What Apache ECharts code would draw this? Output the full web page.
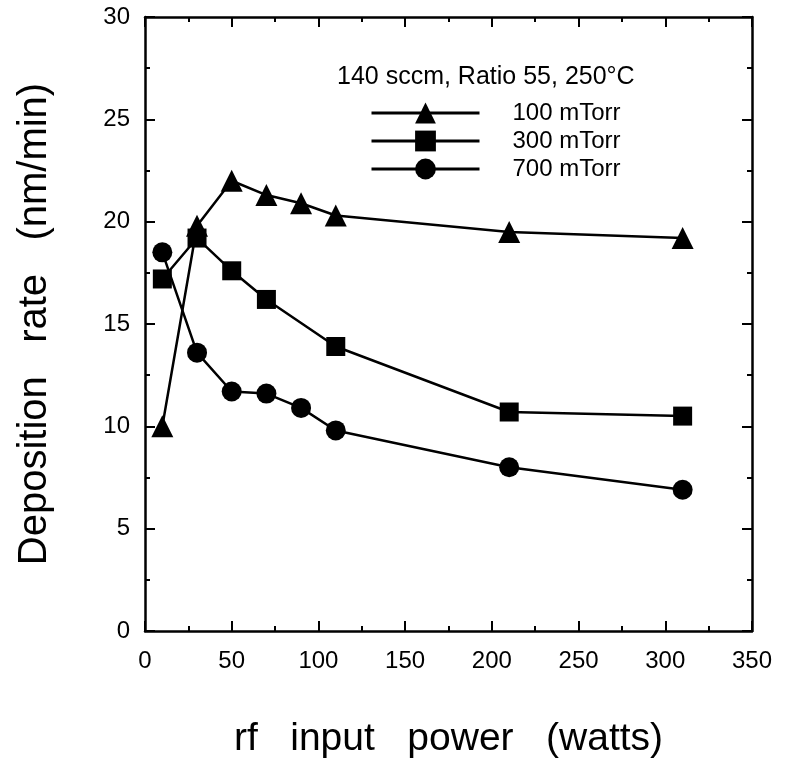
<!DOCTYPE html>
<html><head><meta charset="utf-8">
<script src="https://cdn.jsdelivr.net/npm/echarts@6/dist/echarts.min.js"></script>
<style>html,body{margin:0;padding:0;background:#fff}#c{width:787px;height:760px}</style>
</head><body><div id="c"></div>
<script>
var seriesNames = ['100 mTorr', '300 mTorr', '700 mTorr'];
var power100 = [10, 30, 50, 70, 90, 110, 210, 310];
var rate100 = [10.0, 19.8, 22.0, 21.3, 20.9, 20.3, 19.5, 19.2];
var power300 = [10, 30, 50, 70, 110, 210, 310];
var rate300 = [17.2, 19.2, 17.6, 16.2, 13.9, 10.7, 10.5];
var power700 = [10, 30, 50, 70, 90, 110, 210, 310];
var rate700 = [18.5, 13.6, 11.7, 11.6, 10.9, 9.8, 8.0, 6.9];
var titleText = '140 sccm, Ratio 55, 250°C';
var xName = 'rf   input   power   (watts)';
var yName = 'Deposition   rate   (nm/min)';

function pairs(xs, ys) { return xs.map(function (x, i) { return [x, ys[i]]; }); }

var font = 'Liberation Sans, Arial, Helvetica, sans-serif';
function ax(extra) {
  var base = {
    axisLine: { show: true, onZero: false, lineStyle: { color: '#000', width: 2.5 } },
    axisTick: { show: true, inside: true, length: 10, lineStyle: { color: '#000', width: 2 } },
    minorTick: { show: true, splitNumber: 2, length: 5, lineStyle: { color: '#000', width: 2 } },
    splitLine: { show: false }
  };
  return Object.assign(base, extra);
}

var chart = echarts.init(document.getElementById('c'), null, { renderer: 'canvas' });
var lineStyle = { color: '#000', width: 2.5 };
chart.setOption({
  animation: false,
  backgroundColor: '#fff',
  title: {
    text: titleText, left: 332, top: 60,
    textStyle: { fontFamily: font, fontSize: 25, fontWeight: 'normal', color: '#000' }
  },
  legend: {
    data: seriesNames, orient: 'vertical', left: 365, top: 96,
    itemWidth: 108, itemHeight: 26, itemGap: 4,
    lineStyle: { width: 3 },
    textStyle: { fontFamily: font, fontSize: 24, color: '#000', padding: [0, 0, 0, 28] }
  },
  grid: { left: 145, right: 35, top: 17, bottom: 129, containLabel: false, outerBoundsMode: 'none' },
  xAxis: [
    ax({ type: 'value', min: 0, max: 350, interval: 50, position: 'bottom',
      name: xName, nameLocation: 'middle', nameGap: 89,
      nameTextStyle: { fontFamily: font, fontSize: 39, color: '#000' },
      axisLabel: { margin: 18, fontFamily: font, fontSize: 24, color: '#000' } }),
    ax({ type: 'value', min: 0, max: 350, interval: 50, position: 'top',
      axisLabel: { show: false } })
  ],
  yAxis: [
    ax({ type: 'value', min: 0, max: 30, interval: 5, position: 'left',
      name: yName, nameLocation: 'middle', nameGap: 90, nameRotate: 90,
      nameTextStyle: { fontFamily: font, fontSize: 40, color: '#000' },
      axisLabel: { margin: 15, fontFamily: font, fontSize: 24, color: '#000' } }),
    ax({ type: 'value', min: 0, max: 30, interval: 5, position: 'right',
      axisLabel: { show: false } })
  ],
  series: [
    { name: seriesNames[0], type: 'line', data: pairs(power100, rate100), symbol: 'triangle', symbolSize: 22,
      lineStyle: lineStyle, itemStyle: { color: '#000' }, z: 3 },
    { name: seriesNames[1], type: 'line', data: pairs(power300, rate300), symbol: 'rect', symbolSize: 19,
      lineStyle: lineStyle, itemStyle: { color: '#000' }, z: 3 },
    { name: seriesNames[2], type: 'line', data: pairs(power700, rate700), symbol: 'circle', symbolSize: 20,
      lineStyle: lineStyle, itemStyle: { color: '#000' }, z: 3 },
    { name: 'frame', type: 'line', xAxisIndex: 1, yAxisIndex: 1, data: [], silent: true }
  ]
});
</script></body></html>
